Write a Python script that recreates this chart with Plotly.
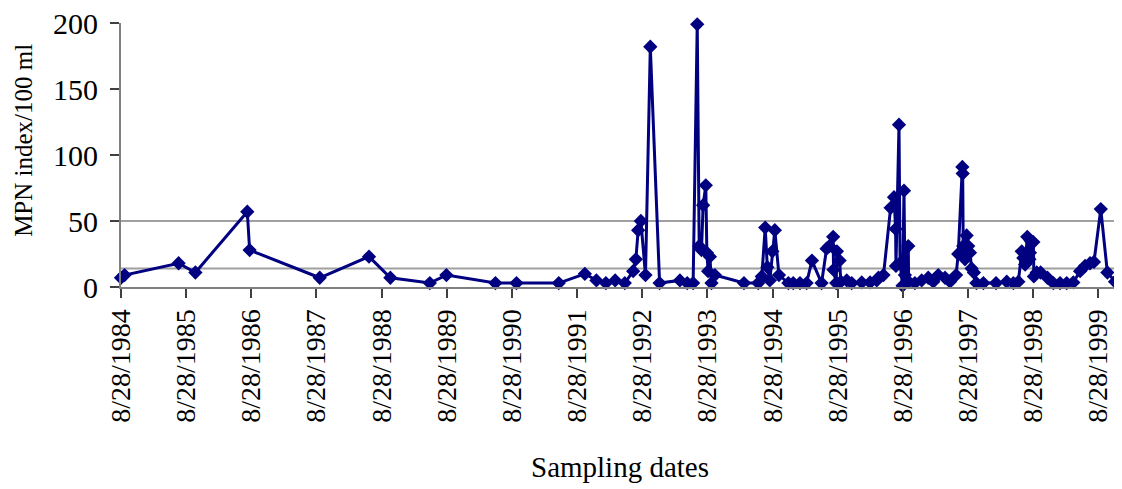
import plotly.graph_objects as go

# Sampling dates and MPN index values
sample_dates = [
    "1984-08-28", "1984-09-17", "1985-07-17", "1985-10-19", "1986-08-06", "1986-08-19",
    "1987-09-16", "1988-06-18", "1988-10-16", "1989-05-25", "1989-08-26", "1990-05-28",
    "1990-09-23", "1991-05-18", "1991-10-11", "1991-12-15", "1992-02-06", "1992-03-29",
    "1992-05-22", "1992-07-08", "1992-07-23", "1992-08-05", "1992-08-20", "1992-09-15",
    "1992-10-12", "1992-12-03", "1993-03-27", "1993-05-07", "1993-06-09", "1993-07-02",
    "1993-07-13", "1993-07-26", "1993-08-04", "1993-08-19", "1993-08-25", "1993-09-01",
    "1993-09-11", "1993-09-20", "1993-10-09", "1994-03-21", "1994-06-09", "1994-06-29",
    "1994-07-18", "1994-07-30", "1994-08-13", "1994-08-27", "1994-09-10", "1994-10-03",
    "1994-11-25", "1994-12-22", "1995-01-29", "1995-03-07", "1995-04-06", "1995-05-30",
    "1995-06-27", "1995-07-13", "1995-08-03", "1995-08-05", "1995-08-20", "1995-08-24",
    "1995-09-08", "1995-09-15", "1995-10-18", "1995-11-15", "1996-01-10", "1996-02-26",
    "1996-04-03", "1996-04-13", "1996-05-11", "1996-06-20", "1996-07-09", "1996-07-18",
    "1996-07-20", "1996-08-06", "1996-08-12", "1996-08-26", "1996-09-03", "1996-09-08",
    "1996-09-27", "1996-09-29", "1996-11-03", "1996-12-11", "1997-01-17", "1997-02-14",
    "1997-03-14", "1997-04-21", "1997-05-19", "1997-06-22", "1997-07-04", "1997-07-27",
    "1997-07-29", "1997-08-01", "1997-08-11", "1997-08-20", "1997-08-29", "1997-09-08",
    "1997-09-17", "1997-09-30", "1997-10-14", "1997-11-22", "1998-02-01", "1998-04-02",
    "1998-05-09", "1998-06-06", "1998-06-25", "1998-07-04", "1998-07-14", "1998-07-26",
    "1998-08-07", "1998-08-10", "1998-08-14", "1998-08-29", "1998-09-01", "1998-09-17",
    "1998-10-09", "1998-11-16", "1998-12-19", "1999-01-26", "1999-03-04", "1999-04-10",
    "1999-05-18", "1999-06-15", "1999-07-13", "1999-08-04", "1999-09-11", "1999-10-18",
    "1999-11-30", "1999-12-28",
]
mpn_values = [
    7, 9, 18, 11, 57, 28,
    7, 23, 7, 3, 9, 3,
    3, 3, 10, 5, 3, 5,
    3, 12, 21, 43, 50, 9,
    182, 3, 5, 3, 3, 199,
    31, 28, 62, 77, 26, 12,
    23, 3, 9, 3, 3, 8,
    45, 15, 5, 27, 43, 9,
    3, 3, 3, 3, 20, 3,
    29, 31, 38, 13, 3, 27,
    20, 4, 5, 3, 3.5, 3.5,
    5, 7, 9, 60, 68, 44,
    16, 123, 18, 1, 73, 9,
    31, 4, 3, 5, 7, 4,
    9, 7, 4, 9, 25, 91,
    86, 31, 21, 39, 31, 26,
    14, 11, 3, 3, 3, 4,
    3, 4, 27, 22, 17, 38,
    21, 26, 35, 34, 8, 11,
    11, 7, 3, 3, 3, 3.5,
    12, 16, 18, 19, 59, 11,
    4, 3,
]

# Reference (standard) levels drawn as horizontal lines
reference_levels = [50, 14]

# Axis ticks
tick_dates = ["%d-08-28" % y for y in range(1984, 2000)]
tick_labels = ["8/28/%d" % y for y in range(1984, 2000)]
y_ticks = [0, 50, 100, 150, 200]

x_range = ["1984-08-28", "2000-01-08"]
y_range = [0, 200]

NAVY = "#000080"
GRID = "#a0a0a0"
AXIS = "#808080"
FONT = "Liberation Serif, Times New Roman, serif"

fig = go.Figure()

for lvl in reference_levels:
    fig.add_shape(type="line", xref="paper", x0=0, x1=1, yref="y", y0=lvl, y1=lvl,
                  line=dict(color=GRID, width=2), layer="below")

fig.add_trace(go.Scatter(
    x=sample_dates, y=mpn_values, mode="lines+markers",
    line=dict(color=NAVY, width=3),
    marker=dict(symbol="diamond", size=11, color=NAVY),
    cliponaxis=False, showlegend=False,
))

fig.update_layout(
    width=1122, height=489,
    margin=dict(l=113, r=8, t=15, b=210, autoexpand=False),
    paper_bgcolor="white", plot_bgcolor="white",
    font=dict(family=FONT, color="black"),
    xaxis=dict(
        type="date", range=x_range, tickmode="array", automargin=False,
        tickvals=tick_dates, ticktext=tick_labels, tickangle=-90,
        tickfont=dict(size=28, family=FONT), showgrid=False, zeroline=False,
        showline=True, linecolor=AXIS, linewidth=2, ticklabeloverflow="allow",
        ticks="outside", ticklen=9, tickcolor="#404040", tickwidth=1.5,
    ),
    yaxis=dict(
        range=y_range, tickmode="array", tickvals=y_ticks, automargin=False,
        tickfont=dict(size=30, family=FONT), showgrid=False, zeroline=False,
        showline=True, linecolor=AXIS, linewidth=2, ticklabelstandoff=6,
        ticklabeloverflow="allow",
        ticks="outside", ticklen=9, tickcolor="#404040", tickwidth=1.5,
    ),
    annotations=[
        dict(text="MPN index/100 ml", xref="paper", yref="paper",
             x=-0.097, y=0.557, xanchor="center", yanchor="middle",
             textangle=-90, showarrow=False, font=dict(size=25, family=FONT)),
        dict(text="Sampling dates", xref="paper", yref="paper",
             x=0.4985, y=-0.682, xanchor="center", yanchor="middle",
             showarrow=False, font=dict(size=29, family=FONT)),
    ],
)

fig.write_html("out.html")
